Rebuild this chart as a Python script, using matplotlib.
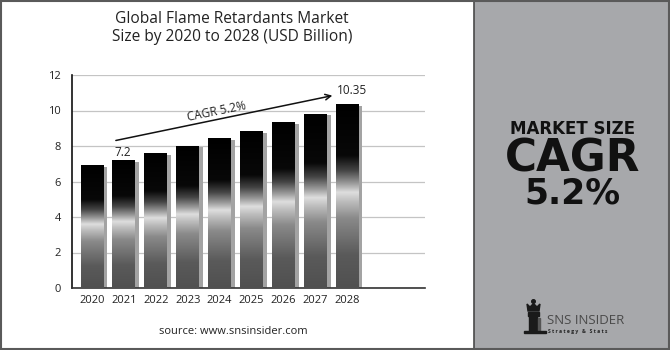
import numpy as np
import matplotlib
matplotlib.use("Agg")
import matplotlib.pyplot as plt
from matplotlib.colors import LinearSegmentedColormap
from matplotlib.patches import Rectangle, Polygon, Circle

# data
years = ['2020', '2021', '2022', '2023', '2024', '2025', '2026', '2027', '2028']
values = [6.9, 7.2, 7.6, 8.0, 8.4, 8.8, 9.3, 9.8, 10.35]
yticks = [0, 2, 4, 6, 8, 10, 12]

plt.rcParams['font.family'] = ['Open Sans', 'DejaVu Sans']

fig = plt.figure(figsize=(6.7, 3.5), dpi=100)
fig.patch.set_facecolor('white')

# right grey panel + outer frame
fig.patches.append(Rectangle((474 / 670, 0), 196 / 670, 1, transform=fig.transFigure,
                             facecolor='#a7a8ab', edgecolor='#4a4a4a', lw=1.2, zorder=0))
fig.patches.append(Rectangle((0.001, 0.002), 0.997, 0.995, transform=fig.transFigure,
                             facecolor='none', edgecolor='#5a5a5a', lw=1.5, zorder=5))

ax = fig.add_axes([72 / 670, 1 - 288 / 350, 353 / 670, 213 / 350])

# metallic gradient for the bars
grad = LinearSegmentedColormap.from_list('metal', [
    (0.0, '#505050'), (0.18, '#5a5a5a'), (0.38, '#8a8a8a'), (0.47, '#bdbdbd'),
    (0.52, '#dedede'), (0.57, '#9a9a9a'), (0.64, '#444444'), (0.72, '#080808'),
    (1.0, '#000000')])
g = np.linspace(0, 1, 256).reshape(-1, 1)

w = 0.72
x = np.arange(len(years))
for xi, v in zip(x, values):
    ax.add_patch(Rectangle((xi - w / 2 + 0.12, 0), w, v - 0.08, facecolor='#a3a3a3',
                           edgecolor='none', zorder=2))
    ax.imshow(g, cmap=grad, origin='lower', aspect='auto',
              extent=[xi - w / 2, xi + w / 2, 0, v], zorder=3)

ax.set_xlim(-0.63, 10.44)
ax.set_ylim(0, 12)
ax.set_yticks(yticks)
ax.set_xticks(x)
ax.set_xticklabels(years)
ax.tick_params(axis='x', length=0, labelsize=8, colors='#222222', pad=5)
ax.tick_params(axis='y', length=0, labelsize=8, colors='#222222', pad=8)
ax.grid(axis='y', color='#c4c4c4', lw=0.9, zorder=0)
ax.set_axisbelow(True)
for s in ['top', 'right']:
    ax.spines[s].set_visible(False)
ax.spines['left'].set_color('#111111')
ax.spines['bottom'].set_color('#333333')
ax.spines['left'].set_linewidth(1.2)
ax.spines['bottom'].set_linewidth(1.2)
ax.set_facecolor('none')

# CAGR arrow and labels
ax.annotate('', xy=(7.62, 10.87), xytext=(0.66, 8.28),
            arrowprops=dict(arrowstyle='->', color='#111111', lw=1.1), zorder=6)
ax.text(3.92, 9.95, 'CAGR 5.2%', rotation=11.5, ha='center', va='center',
        fontsize=8.5, color='#222222', zorder=6)
ax.text(0.97, 7.62, '7.2', ha='center', va='center', fontsize=8.5, color='#222222', zorder=6)
ax.text(8.15, 11.1, '10.35', ha='center', va='center', fontsize=8.5, color='#222222', zorder=6)

fig.text(232 / 670, 1 - 28 / 350, 'Global Flame Retardants Market\nSize by 2020 to 2028 (USD Billion)',
         ha='center', va='center', fontsize=11.2, fontweight='medium', color='#222222',
         linespacing=1.12)
fig.text(233 / 670, 1 - 331 / 350, 'source: www.snsinsider.com', ha='center', va='center',
         fontsize=8, color='#222222')

# right panel text
bold = ['DejaVu Sans']
fig.text(573 / 670, 1 - 134 / 350, 'MARKET SIZE', ha='center', va='baseline',
         fontsize=12, fontweight='bold', color='#111111', family=bold)
fig.text(573 / 670, 1 - 172 / 350, 'CAGR', ha='center', va='baseline',
         fontsize=31.5, fontweight='bold', color='#111111', family=bold)
fig.text(572 / 670, 1 - 204 / 350, '5.2%', ha='center', va='baseline',
         fontsize=25, fontweight='bold', color='#111111', family=bold)

# logo
fig.text(547 / 670, 1 - 321 / 350, 'SNS INSIDER', ha='left', va='center',
         fontsize=9.5, color='#4a4a4a')
fig.text(548 / 670, 1 - 331 / 350, 'S t r a t e g y   &   S t a t s', ha='left', va='center',
         fontsize=3.6, fontweight='bold', color='#222222')
lg = fig.add_axes([0, 0, 1, 1], zorder=3)
lg.set_xlim(0, 670)
lg.set_ylim(350, 0)
lg.axis('off')
lg.add_patch(Circle((533.5, 301.5), 1.8, color='#1a1a1a'))
lg.add_patch(Polygon([(527, 304), (530, 307), (533.5, 303.5), (537, 307), (540, 304),
                      (539, 311), (528, 311)], closed=True, color='#1a1a1a'))
lg.add_patch(Rectangle((528, 312), 11, 4, color='#1a1a1a'))
lg.add_patch(Rectangle((529, 316), 5, 15, color='#1a1a1a'))
lg.add_patch(Rectangle((535, 316), 1.6, 15, color='#1a1a1a'))
lg.add_patch(Rectangle((538, 318), 1.6, 13, color='#555555'))
lg.add_patch(Rectangle((524, 331), 22, 1.6, color='#1a1a1a'))

fig.savefig('out.png', dpi=100)
